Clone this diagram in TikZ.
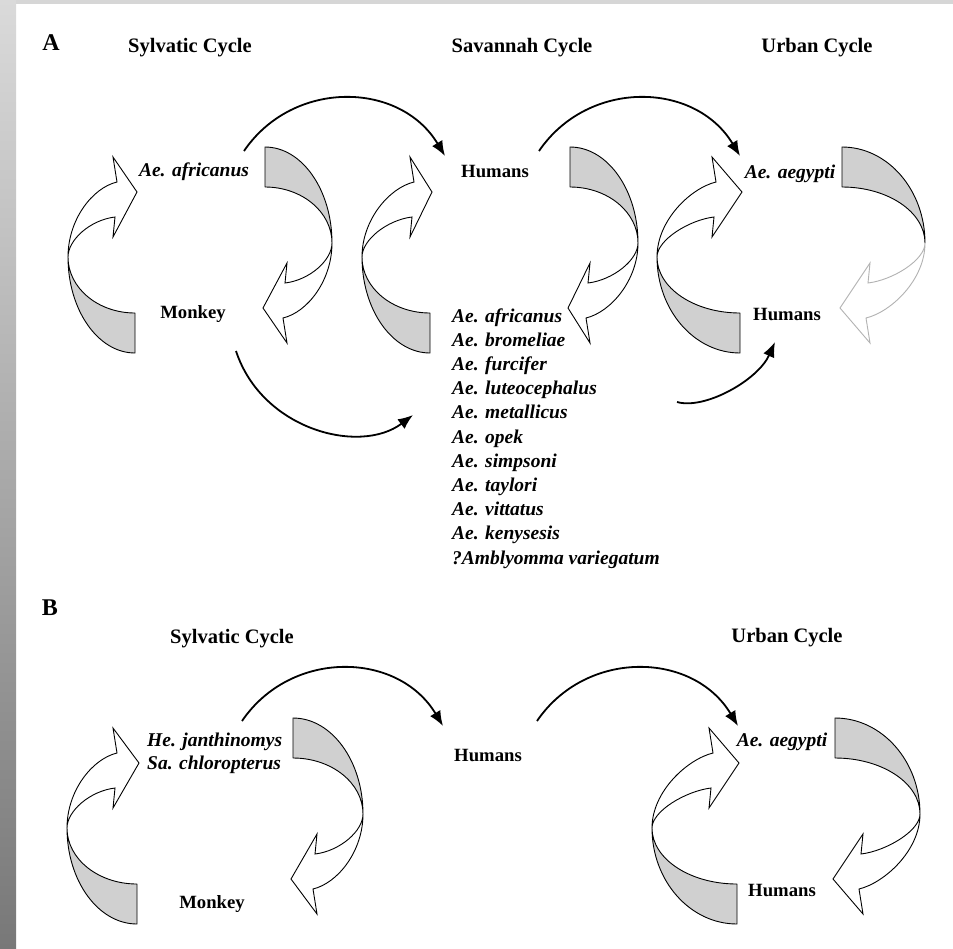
\documentclass[tikz,border=0pt]{standalone}
\usepackage{fontspec}
\setmainfont{Liberation Serif}
\usetikzlibrary{arrows.meta}
\definecolor{bandgray}{RGB}{208,208,208}
\definecolor{bartop}{RGB}{218,218,218}
\definecolor{barbot}{RGB}{120,120,120}
\definecolor{stripgray}{RGB}{214,214,214}

% one half of a twisted ring arrow, in local coordinates (y down)
% #1 = twist half-width W, #2 = band end E, #3 = head width h, #4 = line colour of white part
\newcommand{\halfarrow}[4]{%
  \filldraw[fill=bandgray, draw=black, line width=0.9pt, line join=round]
    (-#1,7) .. controls (-#1,60) and ({-#2-0.552*(#1-#2)},103) .. (-#2,103)
    -- (-#2,63) .. controls ({-#2-0.552*(#1-#2)},63) and (-#1,38) .. cycle;
  \filldraw[fill=white, draw=#4, line width=0.9pt, line join=miter]
    (-#1,7) .. controls (-#1,-30) and ({-#2-#3+6-25},-62) .. ({-#2-#3+6},-68)
    -- ({-#2-#3+2},-93) -- ({-#2+2},-58) -- ({-#2-#3+2},-13)
    -- ({-#2-#3+4},-33) .. controls ({-#2-#3+4-25},-30) and (-#1,-10) .. cycle;
}
% #1,#2 centre; #3 W; #4 E; #5 h; #6,#7 line colours of the white parts
\newcommand{\ringpair}[7]{%
  \begin{scope}[shift={(#1,#2)}]
    \halfarrow{#3}{#4}{#5}{#6}
  \end{scope}
  \begin{scope}[shift={(#1,#2)}, rotate=180]
    \halfarrow{#3}{#4}{#5}{#7}
  \end{scope}
}

\begin{document}
\begin{tikzpicture}[x=1pt, y=-1pt,
  lab/.style={inner sep=0pt, anchor=base, font=\fontsize{18.7}{22}\selectfont\bfseries},
  sp/.style={inner sep=0pt, anchor=base, font=\fontsize{19.5}{24}\selectfont\bfseries\itshape},
  ttl/.style={inner sep=0pt, anchor=base, font=\fontsize{20.5}{24}\selectfont\bfseries},
  panel/.style={inner sep=0pt, anchor=base, font=\fontsize{24}{28}\selectfont\bfseries},
  conn/.style={line width=1.8pt, -{Latex[length=15pt,width=12pt]}}]
\useasboundingbox (0,0) rectangle (953,948);
\fill[white] (0,0) rectangle (953,948);
\shade[top color=bartop, bottom color=barbot] (0,0) rectangle (16,948);
\fill[stripgray] (16,0) rectangle (953,4);

% ---------- Panel A ----------
\node[panel] (pA) at (51,50) {A};
\node[ttl] (tA1) at (190,52) {Sylvatic Cycle};
\node[ttl] (tA2) at (522,52) {Savannah Cycle};
\node[ttl] (tA3) at (817,52) {Urban Cycle};

\ringpair{200}{250}{132}{65}{24}{black}{black}
\ringpair{500}{250}{138}{70}{22}{black}{black}
\ringpair{791}{250}{134}{51}{30}{black}{gray!60}

\node[sp] (afr) at (194,176) {Ae. africanus};
\node[lab] (monA) at (193,318) {Monkey};
\node[lab] (humA) at (495,177) {Humans};
\node[sp] (aegA) at (790,178) {Ae. aegypti};
\node[lab] (humU) at (787,320) {Humans};

\foreach \t [count=\i] in {Ae. africanus, Ae. bromeliae, Ae. furcifer, Ae. luteocephalus,
  Ae. metallicus, Ae. opek, Ae. simpsoni, Ae. taylori, Ae. vittatus, Ae. kenysesis,
  ?Amblyomma variegatum}
  \node[sp, anchor=base west] (sv\i) at (452,{322+24.2*(\i-1)}) {\t};

\coordinate (c1s) at (244,151); \coordinate (c1e) at (445,156);
\coordinate (c2s) at (539,151); \coordinate (c2e) at (740,156);
\coordinate (c3s) at (236,351); \coordinate (c3e) at (413,415);
\coordinate (c4s) at (677,402); \coordinate (c4e) at (775,342);
\draw[conn] (c1s) .. controls (293,79) and (400,81) .. (c1e);
\draw[conn] (c2s) .. controls (588,79) and (695,81) .. (c2e);
\draw[conn] (c3s) .. controls (262,430) and (360,455) .. (c3e);
\draw[conn] (c4s) .. controls (705,410) and (758,380) .. (c4e);

% ---------- Panel B ----------
\node[panel] (pB) at (50,615) {B};
\node[ttl] (tB1) at (232,643) {Sylvatic Cycle};
\node[ttl] (tB2) at (787,642) {Urban Cycle};

\ringpair{215}{821}{148}{78}{26}{black}{black}
\ringpair{786}{821}{134}{49}{30}{black}{black}

\node[sp, anchor=base west] (hej) at (147,746) {He. janthinomys};
\node[sp, anchor=base west] (sac) at (147,769) {Sa. chloropterus};
\node[lab] (monB) at (212,908) {Monkey};
\node[lab] (humB) at (488,761) {Humans};
\node[sp] (aegB) at (782,746) {Ae. aegypti};
\node[lab] (humB2) at (782,896) {Humans};

\coordinate (c5s) at (242,721); \coordinate (c5e) at (443,726);
\coordinate (c6s) at (537,721); \coordinate (c6e) at (738,726);
\draw[conn] (c5s) .. controls (291,649) and (398,651) .. (c5e);
\draw[conn] (c6s) .. controls (586,649) and (693,651) .. (c6e);
\end{tikzpicture}
\end{document}
